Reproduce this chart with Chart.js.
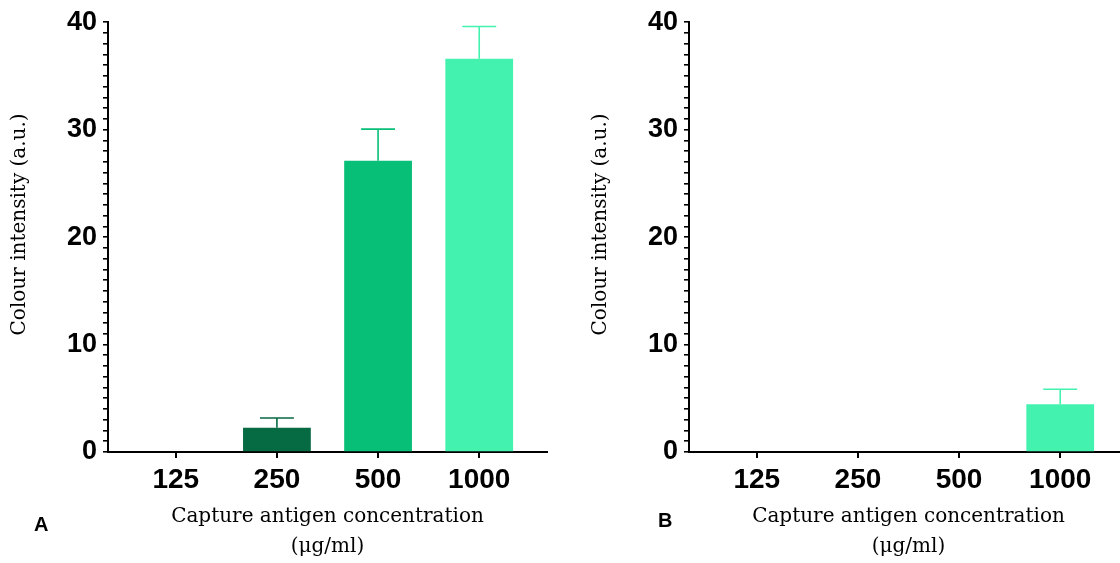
<!DOCTYPE html>
<html>
<head>
<meta charset="utf-8">
<script src="https://cdn.jsdelivr.net/npm/chart.js@4.4.1/dist/chart.umd.min.js"></script>
<style>
  html, body { margin: 0; padding: 0; background: #fff; }
  body { width: 1120px; height: 563px; position: relative; overflow: hidden; }
  .panel { position: absolute; top: 0; width: 560px; height: 563px; }
  .tag { position: absolute; font: bold 20px "Liberation Sans", Arial, sans-serif; color: #000; }
</style>
</head>
<body>
<div class="panel" style="left:0"><canvas id="chartA" width="560" height="563"></canvas></div>
<div class="panel" style="left:581px"><canvas id="chartB" width="560" height="563"></canvas></div>
<div class="tag" style="left:34px; top:513px">A</div>
<div class="tag" style="left:658px; top:509px">B</div>
<script>
const concentrations = ["125", "250", "500", "1000"];

// panel A
const meansA = [0, 2.25, 27.1, 36.6];
const errorsA = [0, 0.92, 2.95, 3.0];

// panel B
const meansB = [0, 0, 0, 4.44];
const errorsB = [0, 0, 0, 1.4];

const yMajorTicks = [0, 10, 20, 30, 40];

const barColors = ["#0b8a55", "#066a42", "#07bf77", "#44f2af"];

// draws the upper error bar on top of every bar
const errorBars = {
  id: "errorBars",
  afterDatasetsDraw(chart, args, opts) {
    const ctx = chart.ctx;
    const y = chart.scales.y;
    const meta = chart.getDatasetMeta(0);
    const ds = chart.data.datasets[0];
    ctx.save();
    ctx.lineWidth = 1.6;
    opts.errors.forEach(function(err, i) {
      if (!err) return;
      const bar = meta.data[i];
      const top = y.getPixelForValue(ds.data[i].y + err);
      const half = bar.width / 4;
      ctx.strokeStyle = ds.backgroundColor[i];
      ctx.beginPath();
      ctx.moveTo(bar.x, bar.y);
      ctx.lineTo(bar.x, top);
      ctx.moveTo(bar.x - half, top);
      ctx.lineTo(bar.x + half, top);
      ctx.stroke();
    });
    ctx.restore();
  }
};

function makePanel(id, means, errors) {
  const ctx = document.getElementById(id);
  return new Chart(ctx, {
    type: "bar",
    data: {
      datasets: [{
        data: means.map(function(v, i) { return {x: i, y: v}; }),
        backgroundColor: barColors,
        borderWidth: 0,
        categoryPercentage: 1,
        barPercentage: 0.67
      }]
    },
    plugins: [errorBars],
    options: {
      responsive: false,
      animation: false,
      layout: {padding: {top: 22, right: 13, left: 0, bottom: 0}},
      plugins: {
        legend: {display: false},
        tooltip: {enabled: false},
        errorBars: {errors: errors}
      },
      scales: {
        x: {
          type: "linear",
          offset: false,
          min: -0.67,
          max: 3.67,
          afterBuildTicks: function(scale) {
            scale.ticks = concentrations.map(function(_, i) { return {value: i}; });
          },
          afterFit: function(scale) { scale.height = 111; },
          border: {color: "#000", width: 2},
          grid: {offset: false, drawOnChartArea: false, tickLength: 6, color: "#000", lineWidth: 2},
          ticks: {
            color: "#000",
            padding: 5,
            maxRotation: 0,
            font: {family: "Liberation Sans", weight: "bold", size: 28},
            callback: function(v) { return concentrations[v]; }
          },
          title: {
            display: true,
            text: ["Capture antigen concentration", "(\u03bcg/ml)"],
            color: "#000",
            padding: {top: 0, bottom: 1},
            font: {family: "DejaVu Serif", size: 20, lineHeight: 1.5}
          }
        },
        y: {
          min: 0,
          max: 40,
          afterFit: function(scale) { scale.width = 108; },
          border: {color: "#000", width: 2},
          grid: {drawOnChartArea: false, tickLength: 5, color: "#000", lineWidth: 1.6},
          ticks: {
            stepSize: 1,
            autoSkip: false,
            color: "#000",
            padding: 6,
            font: {family: "Liberation Sans", weight: "bold", size: 27},
            callback: function(v) { return yMajorTicks.includes(v) ? v : ""; }
          },
          title: {
            display: true,
            // leading spaces lift the centred title a little, as in the original
            text: "    Colour intensity (a.u.)",
            color: "#000",
            padding: {top: 8, bottom: 0},
            font: {family: "DejaVu Serif", size: 20, lineHeight: 1.2}
          }
        }
      }
    }
  });
}

makePanel("chartA", meansA, errorsA);
makePanel("chartB", meansB, errorsB);
</script>
</body>
</html>
